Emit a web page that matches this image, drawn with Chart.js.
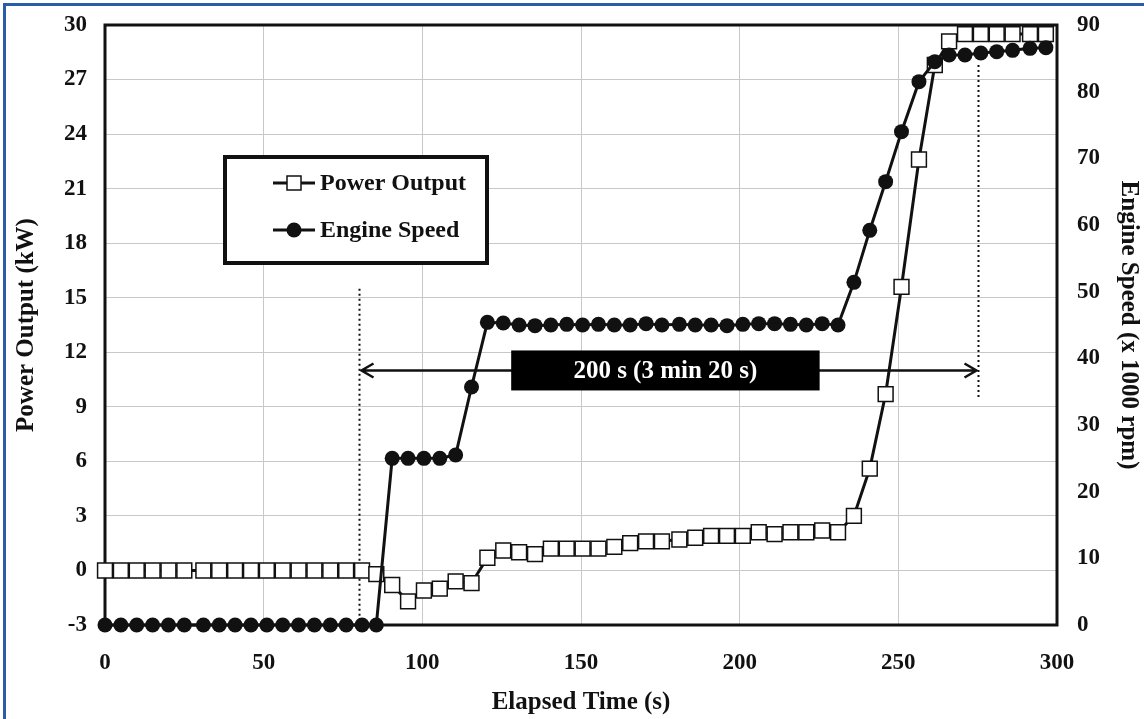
<!DOCTYPE html>
<html><head><meta charset="utf-8">
<script src="https://cdn.jsdelivr.net/npm/chart.js@4/dist/chart.umd.min.js"></script>
<style>html,body{margin:0;padding:0;background:#fff;overflow:hidden}</style>
</head><body>
<canvas id="c" width="1144" height="719"></canvas>
<script>
// ---- data ----
const timeSeconds = [0,5,10,15,20,25,31,36,41,46,51,56,61,66,71,76,81,85.5,
  90.5,95.5,100.5,105.5,110.5,115.5,120.5,125.5,130.5,135.5,140.5,145.5,150.5,155.5,160.5,165.5,170.5,175.5,
  181,186,191,196,201,206,211,216,221,226,231,236,241,246,251,
  256.5,261.5,266,271,276,281,286,291.5,296.5];
const powerKW = [0,0,0,0,0,0,0,0,0,0,0,0,0,0,0,0,0,-0.2,
  -0.8,-1.7,-1.1,-1.0,-0.6,-0.7,0.7,1.1,1.0,0.9,1.2,1.2,1.2,1.2,1.3,1.5,1.6,1.6,
  1.7,1.8,1.9,1.9,1.9,2.1,2.0,2.1,2.1,2.2,2.1,3.0,5.6,9.7,15.6,
  22.6,27.8,29.1,29.5,29.5,29.5,29.5,29.5,29.5];
const speedKrpm = [0,0,0,0,0,0,0,0,0,0,0,0,0,0,0,0,0,0,
  25,25,25,25,25.5,35.7,45.4,45.3,45,44.9,45,45.1,45,45.1,45,45,45.2,45,
  45.1,45,45,44.9,45.1,45.2,45.2,45.1,45,45.2,45,51.4,59.2,66.5,74,
  81.5,84.5,85.5,85.5,85.8,86,86.2,86.5,86.6];
const xTickStep = 50, xMin = 0, xMax = 300;
const yLeftMin = -3, yLeftMax = 30, yLeftStep = 3;
const yRightMin = 0, yRightMax = 90, yRightStep = 10;
const seriesNames = ['Power Output', 'Engine Speed'];
const spanStart = 80, spanEnd = 275, spanLabel = '200 s (3 min 20 s)';
const axisTitles = {x: 'Elapsed Time (s)', y: 'Power Output (kW)', y2: 'Engine Speed (x 1000 rpm)'};

const FONT = '"Liberation Serif","Times New Roman",serif';
const INK = '#111';

const powerPts = timeSeconds.map((t,i)=>({x:t,y:powerKW[i]}));
const speedPts = timeSeconds.map((t,i)=>({x:t,y:speedKrpm[i]}));

const decor = {
  id: 'decor',
  beforeDraw(chart){
    const ctx = chart.ctx;
    ctx.save();
    ctx.fillStyle = '#fff';
    ctx.fillRect(0,0,chart.width,chart.height);
    ctx.strokeStyle = '#2a5caa';
    ctx.lineWidth = 3;
    ctx.beginPath();
    ctx.moveTo(4.5, chart.height); ctx.lineTo(4.5, 4.5); ctx.lineTo(chart.width, 4.5);
    ctx.stroke();
    ctx.restore();
  },
  beforeDatasetsDraw(chart){
    const {ctx, chartArea:a, scales} = chart;
    const x = scales.x, y = scales.y;
    ctx.save();
    ctx.strokeStyle = INK; ctx.lineWidth = 3;
    ctx.strokeRect(a.left, a.top, a.right - a.left, a.bottom - a.top);
    // dotted verticals
    ctx.lineWidth = 2; ctx.setLineDash([2,3]);
    ctx.beginPath();
    const xl = Math.round(x.getPixelForValue(spanStart)) + 0.5;
    ctx.moveTo(xl, y.getPixelForValue(15.5)); ctx.lineTo(xl, a.bottom);
    const xr = Math.round(x.getPixelForValue(spanEnd)) + 0.5;
    ctx.moveTo(xr, y.getPixelForValue(27.8)); ctx.lineTo(xr, y.getPixelForValue(9.4));
    ctx.stroke();
    ctx.setLineDash([]);
    // arrow
    const ay = Math.round(y.getPixelForValue(11.0)) + 0.5;
    ctx.lineWidth = 2.5;
    ctx.beginPath();
    ctx.moveTo(xl + 2, ay); ctx.lineTo(xr - 2, ay);
    ctx.moveTo(xl + 14, ay - 7); ctx.lineTo(xl + 2, ay); ctx.lineTo(xl + 14, ay + 7);
    ctx.moveTo(xr - 14, ay - 7); ctx.lineTo(xr - 2, ay); ctx.lineTo(xr - 14, ay + 7);
    ctx.stroke();
    // label box
    const bx0 = x.getPixelForValue(128), bx1 = x.getPixelForValue(225.2);
    const by0 = y.getPixelForValue(12.1), by1 = y.getPixelForValue(9.9);
    ctx.fillStyle = '#000';
    ctx.fillRect(bx0, by0, bx1 - bx0, by1 - by0);
    ctx.fillStyle = '#fff';
    ctx.font = 'bold 25px ' + FONT;
    ctx.textAlign = 'center'; ctx.textBaseline = 'middle';
    ctx.fillText(spanLabel, (bx0 + bx1) / 2, (by0 + by1) / 2 + 1);
    ctx.restore();
  },
  afterDraw(chart){
    const ctx = chart.ctx;
    ctx.save();
    // legend box
    const L = 225, T = 157, R = 487, B = 263;
    ctx.fillStyle = '#fff';
    ctx.fillRect(L, T, R - L, B - T);
    ctx.strokeStyle = INK; ctx.lineWidth = 4;
    ctx.strokeRect(L, T, R - L, B - T);
    const rows = [183, 230];
    ctx.font = 'bold 24px ' + FONT;
    ctx.textAlign = 'left'; ctx.textBaseline = 'middle';
    rows.forEach((ry, i) => {
      ctx.strokeStyle = INK; ctx.lineWidth = 3;
      ctx.beginPath(); ctx.moveTo(273, ry); ctx.lineTo(315, ry); ctx.stroke();
      if (i === 0) {
        ctx.fillStyle = '#fff'; ctx.lineWidth = 1.5;
        ctx.fillRect(287, ry - 7, 14, 14); ctx.strokeRect(287, ry - 7, 14, 14);
      } else {
        ctx.fillStyle = INK;
        ctx.beginPath(); ctx.arc(294, ry, 7.5, 0, Math.PI * 2); ctx.fill();
      }
      ctx.fillStyle = INK;
      ctx.fillText(seriesNames[i], 320, ry + 1);
    });
    ctx.restore();
  }
};

const tickFont = {family: FONT, size: 23, weight: 'bold'};
const titleFont = {family: FONT, size: 25, weight: 'bold'};
function noPad(s){ s.paddingTop = 0; s.paddingBottom = 0; s.paddingLeft = 0; s.paddingRight = 0; }

new Chart(document.getElementById('c'), {
  type: 'line',
  data: {
    datasets: [
      {label: seriesNames[0], data: powerPts, yAxisID: 'y', order: 1,
       borderColor: INK, borderWidth: 3, pointStyle: 'rect', pointRadius: 10.5,
       pointBackgroundColor: '#fff', pointBorderColor: INK, pointBorderWidth: 1.5,
       tension: 0, clip: false},
      {label: seriesNames[1], data: speedPts, yAxisID: 'y2', order: 0,
       borderColor: INK, borderWidth: 3, pointStyle: 'circle', pointRadius: 7.5,
       pointBackgroundColor: INK, pointBorderColor: INK, pointBorderWidth: 0,
       tension: 0, clip: false}
    ]
  },
  options: {
    responsive: false, animation: false, devicePixelRatio: 1,
    layout: {padding: {top: 25, left: 0, right: 0, bottom: 0}},
    plugins: {legend: {display: false}, tooltip: {enabled: false}},
    scales: {
      x: {type: 'linear', min: xMin, max: xMax,
        ticks: {stepSize: xTickStep, font: tickFont, color: INK, padding: 24, maxRotation: 0},
        grid: {color: '#c8c8c8', lineWidth: 1, drawTicks: false},
        border: {display: false},
        title: {display: true, text: axisTitles.x, font: titleFont, color: INK, padding: {top: 0, bottom: 1}},
        afterFit(s){ s.height = 94; noPad(s); }
      },
      y: {position: 'left', min: yLeftMin, max: yLeftMax,
        ticks: {stepSize: yLeftStep, font: tickFont, color: INK, padding: 18},
        grid: {color: '#c8c8c8', lineWidth: 1, drawTicks: false},
        border: {display: false},
        title: {display: true, text: axisTitles.y, font: titleFont, color: INK, padding: {top: 12, bottom: 0}},
        afterFit(s){ s.width = 105; noPad(s); }
      },
      y2: {position: 'right', min: yRightMin, max: yRightMax,
        ticks: {stepSize: yRightStep, font: tickFont, color: INK, padding: 20},
        grid: {display: false, drawTicks: false},
        border: {display: false},
        title: {display: true, text: axisTitles.y2, font: titleFont, color: INK, padding: {top: 1, bottom: 0}},
        afterFit(s){ s.width = 87; noPad(s); }
      }
    }
  },
  plugins: [decor]
});
</script>
</body></html>
